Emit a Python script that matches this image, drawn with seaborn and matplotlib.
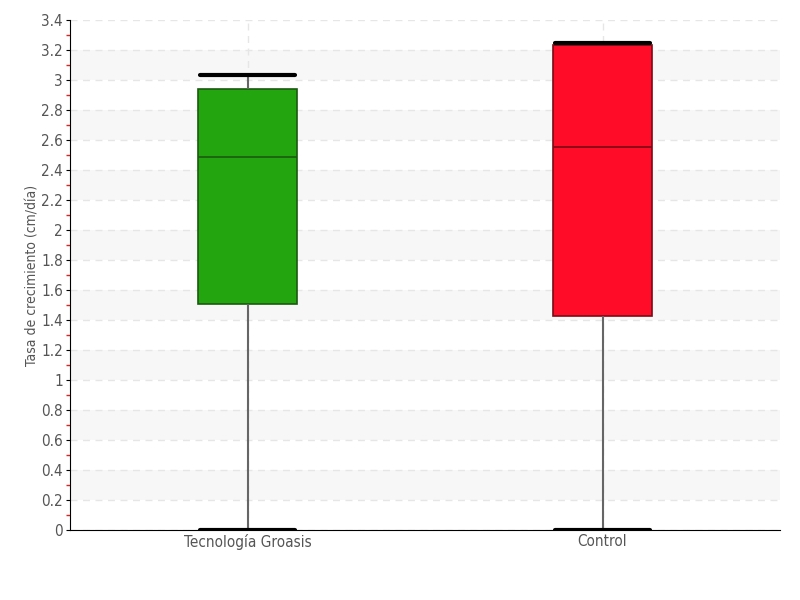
import matplotlib
matplotlib.use('Agg')
import matplotlib.pyplot as plt
from matplotlib.ticker import MultipleLocator
import seaborn as sns
import pandas as pd
import numpy as np

# five-number summaries: min, q1, median, q3, max
categories = ['Tecnología Groasis', 'Control']
groasis = [0.0, 1.507, 2.487, 2.94, 3.033]
control = [0.0, 1.427, 2.553, 3.233, 3.247]
colors = ['#22A50F', '#FF0D28']
edge_colors = ['#1a5a10', '#7a0a14']

df = pd.DataFrame({
    'grupo': [categories[0]] * len(groasis) + [categories[1]] * len(control),
    'tasa': groasis + control,
})

sns.set_style('white')
plt.rcParams['font.family'] = ['DejaVu Sans']
plt.rcParams['font.stretch'] = 'condensed'

fig = plt.figure(figsize=(8, 6), dpi=100)
ax = fig.add_axes([0.0875, 0.1167, 0.8875, 0.85])

# alternating bands
for lo in np.arange(0.2, 3.4, 0.4):
    ax.axhspan(lo, lo + 0.2, color='#f7f7f7', zorder=0, lw=0)

sns.boxplot(data=df, x='grupo', y='tasa', hue='grupo', palette=colors,
            order=categories, whis=(0, 100), width=0.28, ax=ax,
            legend=False, linewidth=1.2, saturation=1,
            whiskerprops=dict(color='#666666', linewidth=1.5),
            capprops=dict(color='black', linewidth=3),
            medianprops=dict(linewidth=1.2),
            showfliers=False)

# box edges, median colours and wider caps
for patch, ec in zip(ax.patches[-2:], edge_colors):
    patch.set_edgecolor(ec)
lines = ax.lines
for i, ec in enumerate(edge_colors):
    # order per box: whisker, whisker, cap, cap, median
    grp = lines[i * 5:(i + 1) * 5]
    grp[4].set_color(ec)
    for cap in grp[2:4]:
        cap.set_xdata([i - 0.133, i + 0.133])

ax.set_xlim(-0.5, 1.5)
ax.set_ylim(0, 3.4)
ax.yaxis.set_major_locator(MultipleLocator(0.2))
ax.yaxis.set_minor_locator(MultipleLocator(0.1))
ax.set_yticklabels([f'{v:g}' for v in np.round(ax.get_yticks(), 1)])

ax.grid(True, axis='y', which='major', linestyle=(0, (5, 4)), color='#e6e6e6', lw=1)
ax.grid(True, axis='x', which='major', linestyle=(0, (5, 4)), color='#e6e6e6', lw=1)
ax.set_axisbelow(True)

for s in ['top', 'right']:
    ax.spines[s].set_visible(False)
ax.spines['left'].set_color('black')
ax.spines['bottom'].set_color('black')

ax.tick_params(axis='y', which='major', direction='out', length=3, color='black',
               labelsize=11, labelcolor='#555555', left=True, pad=2)
ax.tick_params(axis='y', which='minor', direction='out', length=3, width=1,
               color='#dd2222', left=True)
ax.tick_params(axis='x', length=0, labelsize=11, labelcolor='#555555', pad=3)

ax.set_xlabel('')
ax.set_ylabel('Tasa de crecimiento (cm/día)', fontsize=10, color='#555555', labelpad=1)

fig.savefig('out.png', dpi=100)
